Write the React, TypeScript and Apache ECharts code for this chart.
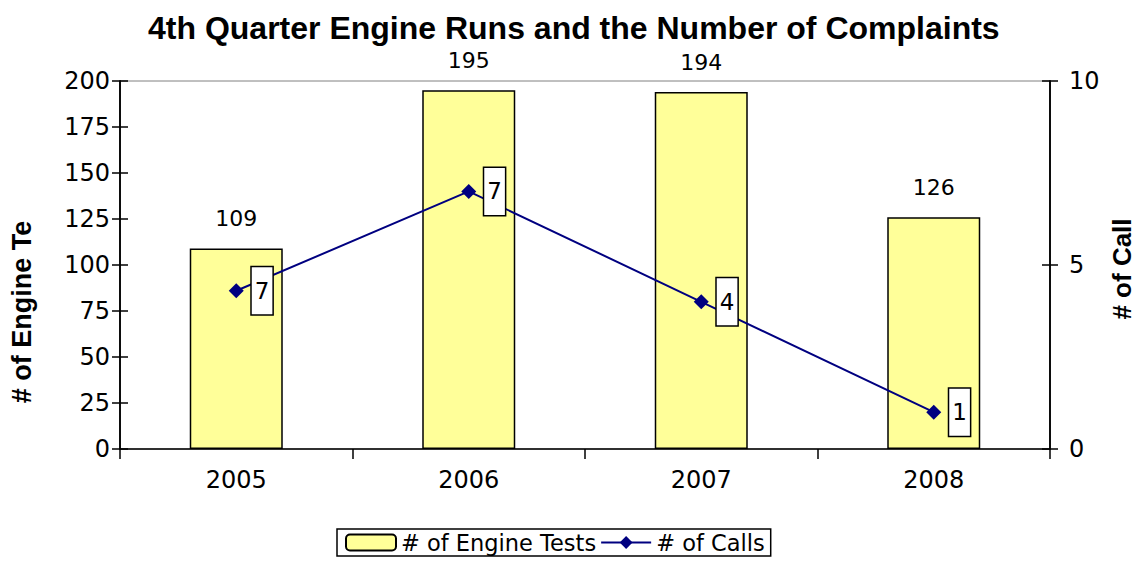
import React, { useEffect, useRef } from "react";
import * as echarts from "echarts";

const categories = ["2005", "2006", "2007", "2008"];
const engineTests = [109, 195, 194, 126];
const calls = [4.3, 7, 4, 1];
const callLabels = ["7", "7", "4", "1"];
const leftTicks = [0, 200, 25];
const rightTicks = [0, 10, 5];

const FONT = "Liberation Sans, Arial, sans-serif";
const WIDE = "DejaVu Sans, Liberation Sans, sans-serif";

export default function App() {
  const ref = useRef<HTMLDivElement>(null);
  useEffect(() => {
    if (!ref.current) return;
    const chart = echarts.init(ref.current, undefined, { renderer: "svg" });
    const axisLine = { show: true, lineStyle: { color: "#000", width: 1.5 } };
    chart.setOption({
      animation: false,
      textStyle: { fontFamily: WIDE },
      title: {
        text: "4th Quarter Engine Runs and the Number of Complaints",
        left: 140,
        top: 4,
        padding: 0,
        textStyle: { fontSize: 32, fontWeight: "bold", color: "#000", fontFamily: FONT },
      },
      grid: {
        left: 112,
        right: 90,
        top: 73,
        bottom: 128,
        show: true,
        borderColor: "#808080",
        borderWidth: 1,
        outerBoundsMode: "none",
      },
      legend: {
        bottom: 21,
        left: 329,
        borderColor: "#000",
        borderWidth: 1.5,
        padding: [2, 6, 2, 8],
        itemGap: 4,
        itemWidth: 50,
        itemHeight: 16,
        textStyle: { fontSize: 22.5, color: "#000", fontFamily: WIDE },
        data: ["# of Engine Tests", "# of Calls"],
      },
      xAxis: {
        type: "category",
        data: categories,
        axisLine,
        axisTick: { show: true, length: 10, lineStyle: { color: "#000", width: 1.5 } },
        axisLabel: { fontSize: 24, color: "#000", margin: 19, fontFamily: WIDE },
        splitLine: { show: false },
      },
      yAxis: [
        {
          type: "value",
          min: leftTicks[0],
          max: leftTicks[1],
          interval: leftTicks[2],
          position: "left",
          axisLine,
          axisTick: { show: true, length: 8, lineStyle: { color: "#000", width: 1.5 } },
          axisLabel: { fontSize: 24, color: "#000", margin: 10, fontFamily: WIDE },
          splitLine: { show: false },
        },
        {
          type: "value",
          min: rightTicks[0],
          max: rightTicks[1],
          interval: rightTicks[2],
          position: "right",
          axisLine,
          axisTick: { show: true, length: 8, lineStyle: { color: "#000", width: 1.5 } },
          axisLabel: { fontSize: 24, color: "#000", margin: 19, fontFamily: WIDE },
          splitLine: { show: false },
        },
        {
          type: "value",
          min: leftTicks[0],
          max: leftTicks[1],
          interval: leftTicks[2],
          position: "left",
          axisLine,
          axisTick: { show: true, inside: true, length: 8, lineStyle: { color: "#000", width: 1.5 } },
          axisLabel: { show: false },
          splitLine: { show: false },
        },
        {
          type: "value",
          min: rightTicks[0],
          max: rightTicks[1],
          interval: rightTicks[2],
          position: "right",
          axisLine,
          axisTick: { show: true, inside: true, length: 8, lineStyle: { color: "#000", width: 1.5 } },
          axisLabel: { show: false },
          splitLine: { show: false },
        },
      ],
      series: [
        {
          name: "# of Engine Tests",
          type: "bar",
          yAxisIndex: 0,
          data: engineTests,
          barWidth: "40%",
          itemStyle: { color: "#FFFF99", borderColor: "#000", borderWidth: 1.5 },
          label: {
            show: true,
            position: "top",
            distance: 19,
            fontSize: 22,
            color: "#000",
            fontFamily: WIDE,
          },
        },
        {
          name: "# of Calls",
          type: "line",
          yAxisIndex: 1,
          data: calls,
          symbol: "diamond",
          symbolSize: 15,
          lineStyle: { color: "#000080", width: 2 },
          itemStyle: { color: "#000080" },
          label: {
            show: true,
            position: "right",
            distance: 8,
            formatter: (p: any) => callLabels[p.dataIndex],
            fontSize: 23,
            color: "#000",
            backgroundColor: "#fff",
            borderColor: "#000",
            borderWidth: 1.5,
            padding: [12, 3, 12, 3],
            fontFamily: WIDE,
          },
        },
      ],
      graphic: [
        {
          type: "text",
          x: 14,
          y: 304,
          rotation: Math.PI / 2,
          style: {
            text: "# of Engine Te",
            fontSize: 27,
            fontWeight: "bold",
            fill: "#000",
            fontFamily: FONT,
            align: "center",
            verticalAlign: "middle",
          },
        },
        {
          type: "text",
          x: 1114,
          y: 261,
          rotation: Math.PI / 2,
          style: {
            text: "# of Call",
            fontSize: 26,
            fontWeight: "bold",
            fill: "#000",
            fontFamily: FONT,
            align: "center",
            verticalAlign: "middle",
          },
        },
      ],
    });
    return () => chart.dispose();
  }, []);
  return <div ref={ref} style={{ width: 1132, height: 569 }} />;
}
